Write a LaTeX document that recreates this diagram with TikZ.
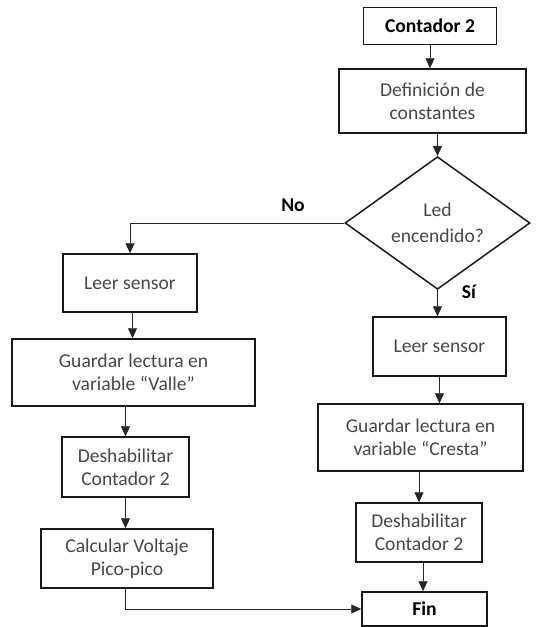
\documentclass[tikz,border=0pt]{standalone}
\usepackage{fontspec}
\setmainfont{Carlito}
\usepackage{xcolor}
\usetikzlibrary{arrows.meta,positioning,shapes.geometric,calc}

\begin{document}
\begin{tikzpicture}[x=0.5pt, y=-0.5pt,
  caja/.style={draw=black!90, line width=0.75pt, align=center, inner sep=1pt, text=black!72,
    font=\fontsize{9.8}{11.6}\selectfont},
  titulo/.style={caja, text=black, font=\fontsize{9.8}{11.6}\selectfont\bfseries},
  decision/.style={diamond, draw=black!90, line width=0.75pt, align=center, inner sep=0pt,
    text=black!72, font=\fontsize{9.8}{13}\selectfont},
  flecha/.style={-{Triangle[length=5pt,width=4.5pt]}, line width=0.45pt, black!85},
  etiqueta/.style={font=\fontsize{9.8}{11.6}\selectfont\bfseries}]

\useasboundingbox (0,0) rectangle (552,627);

% Right column: start
\node[titulo, minimum width=66.5pt, minimum height=18.5pt] (inicio) at (430,26) {Contador 2};
\node[caja, minimum width=93.5pt, minimum height=32pt] (constantes) at (432.5,101) {Definición de\\constantes};

% Decision
\node[decision, minimum width=92.5pt, minimum height=63pt] (led) at (437.5,223) {Led\\encendido?};

% Branch No (left)
\node[caja, minimum width=67pt, minimum height=29pt] (leerNo) at (130,283) {Leer sensor};
\node[caja, minimum width=121.5pt, minimum height=33.5pt] (valle) at (133.5,372.5) {Guardar lectura en\\variable “Valle”};
\node[caja, minimum width=63.5pt, minimum height=30pt] (deshNo) at (125.5,467) {Deshabilitar\\Contador 2};
\node[caja, minimum width=86pt, minimum height=29.5pt] (voltaje) at (127,558.5) {Calcular Voltaje\\Pico-pico};

% Branch Si (right)
\node[caja, minimum width=66.5pt, minimum height=29.5pt] (leerSi) at (439.5,346.5) {Leer sensor};
\node[caja, minimum width=102.5pt, minimum height=33.5pt] (cresta) at (420.5,437.5) {Guardar lectura en\\variable “Cresta”};
\node[caja, minimum width=63pt, minimum height=29.5pt] (deshSi) at (419,532.5) {Deshabilitar\\Contador 2};
\node[titulo, minimum width=62.5pt, minimum height=17pt] (fin) at (424.5,609) {Fin};

% Labels
\node[etiqueta] (no) at (293,205) {No};
\node[etiqueta] (si) at (469,292) {Sí};

% Connectors
\draw[flecha] (inicio.south) -- (inicio.south |- constantes.north);
\draw[flecha] (constantes.south -| led.north) -- (led.north);
\draw[flecha] (led.west) -- (leerNo.north |- led.west) -- (leerNo.north);
\draw[flecha] (led.south) -- (led.south |- leerSi.north);
\draw[flecha] (leerNo.south -| 132.5,0) -- (valle.north -| 132.5,0);
\draw[flecha] (valle.south -| deshNo.north) -- (deshNo.north);
\draw[flecha] (deshNo.south) -- (deshNo.south |- voltaje.north);
\draw[flecha] (voltaje.south -| deshNo.south) |- (fin.west);
\draw[flecha] (leerSi.south) -- (leerSi.south |- cresta.north);
\draw[flecha] (cresta.south -| deshSi.north) -- (deshSi.north);
\draw[flecha] (deshSi.south -| 423,0) -- (fin.north -| 423,0);

\end{tikzpicture}
\end{document}
